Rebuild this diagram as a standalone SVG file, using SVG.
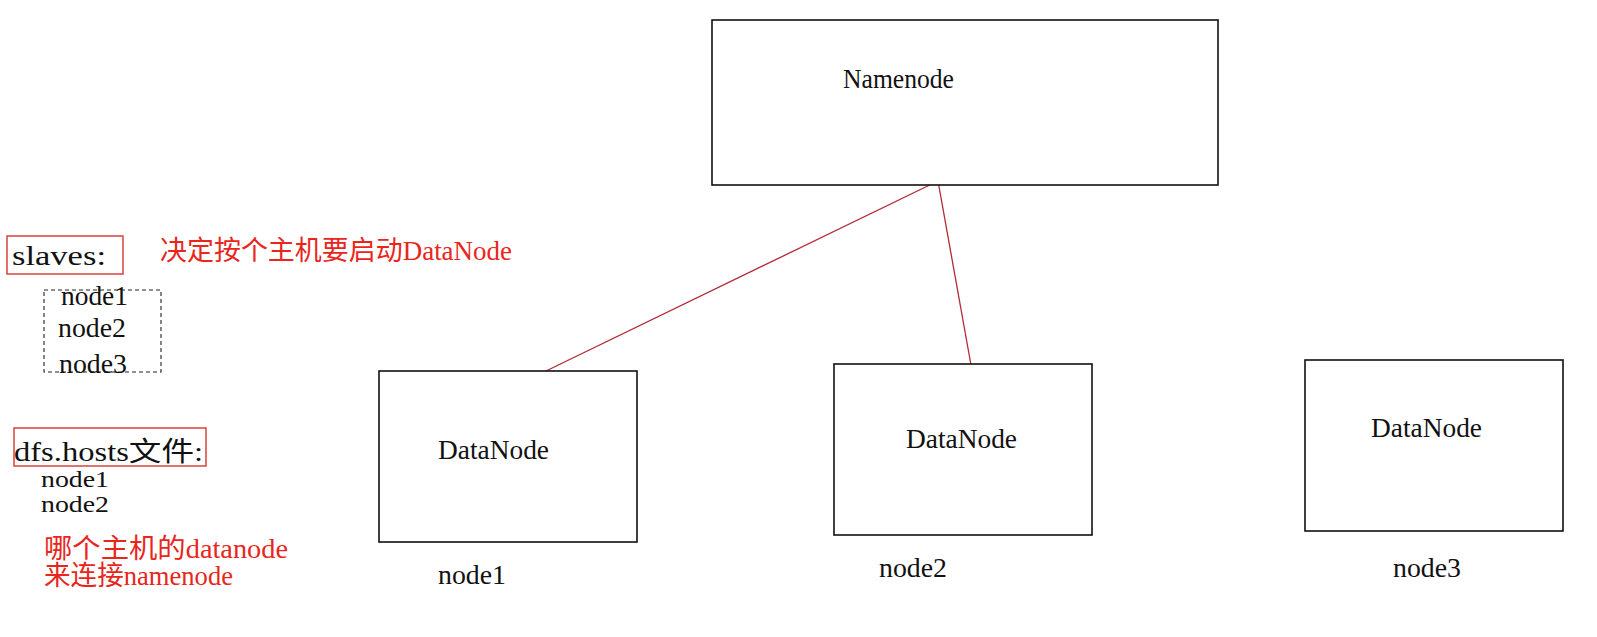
<svg xmlns="http://www.w3.org/2000/svg" width="1597" height="637" viewBox="0 0 1597 637">
  <style>
    .box { fill: #ffffff; stroke: #111111; stroke-width: 1.6; }
    .redbox { fill: none; stroke: #d8342c; stroke-width: 1.4; }
    .dash { fill: none; stroke: #222222; stroke-width: 1.1; stroke-dasharray: 4 3; }
    .t { font-family: "Liberation Serif", "Noto Sans CJK SC", serif; font-size: 27px; fill: #111111; }
    .s { font-size: 24px; }
    .r { font-family: "Liberation Serif", "Noto Sans CJK SC", serif; font-size: 27px; fill: #e8261c; }
    .link { stroke: #b22a35; stroke-width: 1.3; fill: none; }
  </style>
  <rect width="1597" height="637" fill="#ffffff"/>

  <g id="connectors">
    <line class="link" x1="938" y1="181" x2="546" y2="371"/>
    <line class="link" x1="938" y1="181" x2="971" y2="365"/>
  </g>

  <g id="namenode">
    <rect class="box" x="712" y="20" width="506" height="165"/>
    <text class="t" x="843" y="88" textLength="111" lengthAdjust="spacingAndGlyphs">Namenode</text>
  </g>

  <g id="datanode1">
    <rect class="box" x="379" y="371" width="258" height="171"/>
    <text class="t" x="438" y="459" textLength="111" lengthAdjust="spacingAndGlyphs">DataNode</text>
    <text class="t" x="438" y="584" textLength="68" lengthAdjust="spacingAndGlyphs">node1</text>
  </g>

  <g id="datanode2">
    <rect class="box" x="834" y="364" width="258" height="171"/>
    <text class="t" x="906" y="448" textLength="111" lengthAdjust="spacingAndGlyphs">DataNode</text>
    <text class="t" x="879" y="577" textLength="68" lengthAdjust="spacingAndGlyphs">node2</text>
  </g>

  <g id="datanode3">
    <rect class="box" x="1305" y="360" width="258" height="171"/>
    <text class="t" x="1371" y="437" textLength="111" lengthAdjust="spacingAndGlyphs">DataNode</text>
    <text class="t" x="1393" y="577" textLength="68" lengthAdjust="spacingAndGlyphs">node3</text>
  </g>

  <g id="slaves">
    <rect class="redbox" x="7" y="236" width="116" height="38"/>
    <text class="t" x="12" y="265" textLength="94" lengthAdjust="spacingAndGlyphs">slaves:</text>
    <text class="r" x="160" y="260" textLength="352" lengthAdjust="spacingAndGlyphs">决定按个主机要启动DataNode</text>
  </g>

  <g id="slaves-list">
    <rect class="dash" x="44" y="290" width="117" height="82"/>
    <text class="t" x="61" y="305" textLength="67" lengthAdjust="spacingAndGlyphs">node1</text>
    <text class="t" x="58" y="337" textLength="68" lengthAdjust="spacingAndGlyphs">node2</text>
    <text class="t" x="59" y="373" textLength="68" lengthAdjust="spacingAndGlyphs">node3</text>
  </g>

  <g id="dfs-hosts">
    <rect class="redbox" x="14" y="428" width="192" height="38"/>
    <text class="t" x="14" y="461" textLength="189" lengthAdjust="spacingAndGlyphs">dfs.hosts文件:</text>
    <text class="t s" x="41" y="487" textLength="68" lengthAdjust="spacingAndGlyphs">node1</text>
    <text class="t s" x="41" y="512" textLength="68" lengthAdjust="spacingAndGlyphs">node2</text>
    <text class="r" x="44" y="558" textLength="244" lengthAdjust="spacingAndGlyphs">哪个主机的datanode</text>
    <text class="r" x="44" y="585" textLength="189" lengthAdjust="spacingAndGlyphs">来连接namenode</text>
  </g>
</svg>
